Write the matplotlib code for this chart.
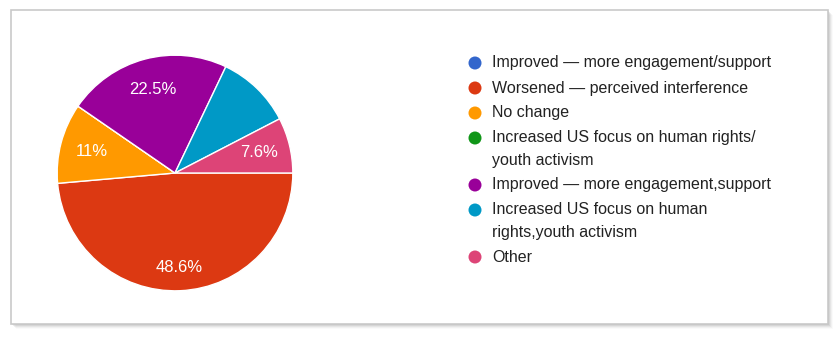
import matplotlib
matplotlib.use("Agg")
import matplotlib.pyplot as plt
import matplotlib.patches as mpatches
import numpy as np

plt.rcParams["font.family"] = ["Liberation Sans", "DejaVu Sans"]

# survey answers, in form order
labels = [
    "Improved \u2014 more engagement/support",
    "Worsened \u2014 perceived interference",
    "No change",
    "Increased US focus on human rights/\nyouth activism",
    "Improved \u2014 more engagement,support",
    "Increased US focus on human\nrights,youth activism",
    "Other",
]
shares = [0.0, 48.6, 11.0, 0.0, 22.5, 10.3, 7.6]
shown = [False, True, True, False, True, False, True]
colors = ["#3366cc", "#dc3912", "#ff9900", "#109618",
          "#990099", "#0099c6", "#dd4477"]

W, H = 838, 337
fig = plt.figure(figsize=(W / 100, H / 100), dpi=100)
fig.patch.set_facecolor("white")


def px_rect(x0, y0, x1, y1):
    # pixel box (top-left origin) -> figure fraction
    return x0 / W, 1 - y1 / H, (x1 - x0) / W, (y1 - y0) / H


# card frame with a soft drop shadow
for k, a in zip(range(5, 0, -1), [0.04, 0.07, 0.10, 0.14, 0.18]):
    x, y, w, h = px_rect(11 + k, 10 + k, 828 + k, 324 + k)
    fig.patches.append(mpatches.Rectangle((x, y), w, h, transform=fig.transFigure,
                                          facecolor="#808080", edgecolor="none",
                                          alpha=a, zorder=-3))
x, y, w, h = px_rect(11, 10, 828, 324)
fig.patches.append(mpatches.Rectangle((x, y), w, h, transform=fig.transFigure,
                                      facecolor="white", edgecolor="#c9c9c9",
                                      linewidth=1.2, zorder=-2))

# pie
cx, cy, r = 175, 173, 119
ax = fig.add_axes(px_rect(cx - r, cy - r, cx + r, cy + r))
ax.patch.set_visible(False)
wedges, _ = ax.pie(shares, colors=colors, startangle=0, counterclock=False,
                   radius=1, wedgeprops=dict(edgecolor="white", linewidth=1))
ax.set_xlim(-1.01, 1.01)
ax.set_ylim(-1.01, 1.01)
ax.set_aspect("equal")
ax.axis("off")

for wd, v, s in zip(wedges, shares, shown):
    if not s:
        continue
    mid = np.deg2rad((wd.theta1 + wd.theta2) / 2)
    d = 0.8 if v > 40 else 0.73
    ax.text(d * np.cos(mid), d * np.sin(mid), f"{v:g}%", color="white",
            fontsize=12, ha="center", va="center")

# legend
ly = 63
for lab, c in zip(labels, colors):
    fig.add_artist(mpatches.Ellipse((475 / W, 1 - ly / H), 13 / W, 13 / H,
                                    transform=fig.transFigure, facecolor=c,
                                    edgecolor="none", zorder=3))
    lines = lab.split("\n")
    for i, line in enumerate(lines):
        fig.text(492 / W, 1 - (ly + 22 * i) / H, line, fontsize=11.5,
                 color="#222222", ha="left", va="center")
    ly += 25 + 22 * (len(lines) - 1)

fig.savefig("out.png", dpi=100)
